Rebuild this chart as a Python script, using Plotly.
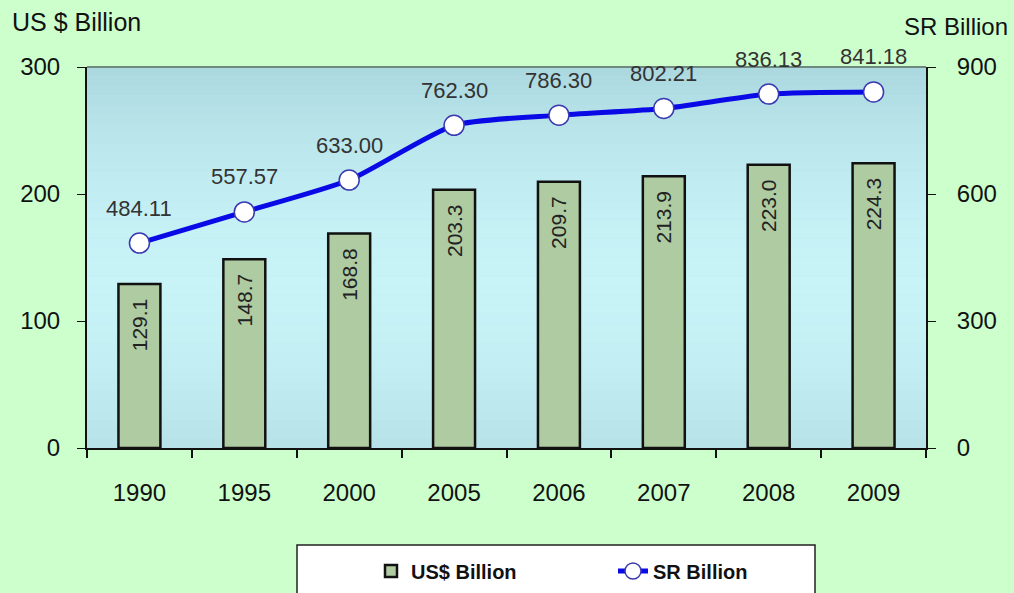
import plotly.graph_objects as go
import math

years = ["1990", "1995", "2000", "2005", "2006", "2007", "2008", "2009"]
usd_billion = [129.1, 148.7, 168.8, 203.3, 209.7, 213.9, 223.0, 224.3]
sr_billion = [484.11, 557.57, 633.00, 762.30, 786.30, 802.21, 836.13, 841.18]
usd_labels = ["129.1", "148.7", "168.8", "203.3", "209.7", "213.9", "223.0", "224.3"]
sr_labels = ["484.11", "557.57", "633.00", "762.30", "786.30", "802.21", "836.13", "841.18"]
left_ticks = [0, 100, 200, 300]
right_ticks = [0, 300, 600, 900]

W, H = 1014, 593
ml, mr, mt, mb = 87, 88, 67, 145
pw, ph = W - ml - mr, H - mt - mb

def px_to_paper(x, y):
    return (x - ml) / pw, (H - mb - y) / ph

fig = go.Figure()

fig.add_trace(go.Bar(
    x=years, y=usd_billion, name="US$ Billion",
    marker=dict(color="#AECBA2", line=dict(color="#111111", width=2.5)),
    width=0.4,
    text=usd_labels, texttemplate="%{text}\u00a0\u00a0",
    textposition="inside", insidetextanchor="end",
    textangle=-90, textfont=dict(family="Arial", size=21, color="#222222"),
    cliponaxis=False,
))

fig.add_trace(go.Scatter(
    x=years, y=sr_billion, name="SR Billion", yaxis="y2",
    mode="lines+markers",
    line=dict(color="#0A0AE6", width=5, shape="spline", smoothing=0.6),
    marker=dict(size=20, color="white", line=dict(color="#3A3AB0", width=1.5)),
    cliponaxis=False,
))

# value labels above the line points (category index on the x axis)
annotations = [
    dict(x=i, y=v, xref="x", yref="y2", text=t, showarrow=False, yshift=35,
         font=dict(family="Arial", size=22, color="#333333"))
    for i, (v, t) in enumerate(zip(sr_billion, sr_labels))
]
annotations += [
    dict(text="US $ Billion", xref="paper", yref="paper",
         x=px_to_paper(10, 0)[0], y=px_to_paper(0, 22)[1], xanchor="left", yanchor="middle",
         showarrow=False, font=dict(size=25, color="#111111")),
    dict(text="SR Billion", xref="paper", yref="paper",
         x=px_to_paper(1010, 0)[0], y=px_to_paper(0, 27)[1], xanchor="right", yanchor="middle",
         showarrow=False, font=dict(size=24, color="#111111")),
]

# vertical gradient for plot background
shapes = []
n = 40
def bg_color(t):
    edge = (166, 210, 218)
    mid = (200, 244, 248)
    k = math.sin(math.pi * (0.15 + 0.8 * t))
    return "rgb(%d,%d,%d)" % tuple(int(e + (m - e) * k) for e, m in zip(edge, mid))
for i in range(n):
    shapes.append(dict(type="rect", xref="x domain", yref="y domain",
                       x0=0, x1=1, y0=i / n, y1=(i + 1) / n,
                       fillcolor=bg_color((i + 0.5) / n), line=dict(width=0), layer="below"))
shapes.append(dict(type="line", xref="x domain", yref="y domain", x0=0, x1=1, y0=1, y1=1,
                   line=dict(color="#6E8A7E", width=2), layer="above"))
# legend box
lx0, ly0 = px_to_paper(297, 545)
lx1, ly1 = px_to_paper(815, 605)
shapes.append(dict(type="rect", xref="paper", yref="paper", x0=lx0, x1=lx1, y0=ly1, y1=ly0,
                   fillcolor="white", line=dict(color="#222222", width=1.5), layer="below"))

fig.update_layout(
    width=W, height=H,
    margin=dict(l=ml, r=mr, t=mt, b=mb, autoexpand=False),
    paper_bgcolor="#CCFFCC",
    plot_bgcolor="#BCE6EC",
    font=dict(family="Arial", size=24, color="#111111"),
    showlegend=True,
    legend=dict(orientation="h", x=px_to_paper(371, 0)[0], xanchor="left",
                y=px_to_paper(0, 571)[1], yanchor="middle",
                bgcolor="rgba(0,0,0,0)",
                font=dict(family="Arial", size=20, color="#111111", weight="bold"),
                entrywidth=197),
    xaxis=dict(type="category", categoryarray=years, range=[-0.5, len(years) - 0.5],
               showline=True, linecolor="#111111",
               linewidth=2, ticks="outside", ticklen=8, tickcolor="#111111", tickwidth=1.5,
               tickson="boundaries", tickfont=dict(size=24), showgrid=False,
               tickangle=0, ticklabelstandoff=22),
    yaxis=dict(range=[0, 300], tickvals=left_ticks, showline=True, linecolor="#111111",
               linewidth=2, ticks="outside", ticklen=8, tickcolor="#111111",
               showgrid=False, zeroline=False, tickfont=dict(size=24), ticklabelstandoff=12),
    yaxis2=dict(range=[0, 900], tickvals=right_ticks, overlaying="y", side="right",
                showline=True, linecolor="#111111", linewidth=2, ticks="outside",
                ticklen=8, tickcolor="#111111", showgrid=False, zeroline=False,
                tickfont=dict(size=24), ticklabelstandoff=16),
    shapes=shapes,
    annotations=annotations,
)

fig.write_html("out.html", config={"displayModeBar": False},
               post_script="document.body.style.margin='0';")
